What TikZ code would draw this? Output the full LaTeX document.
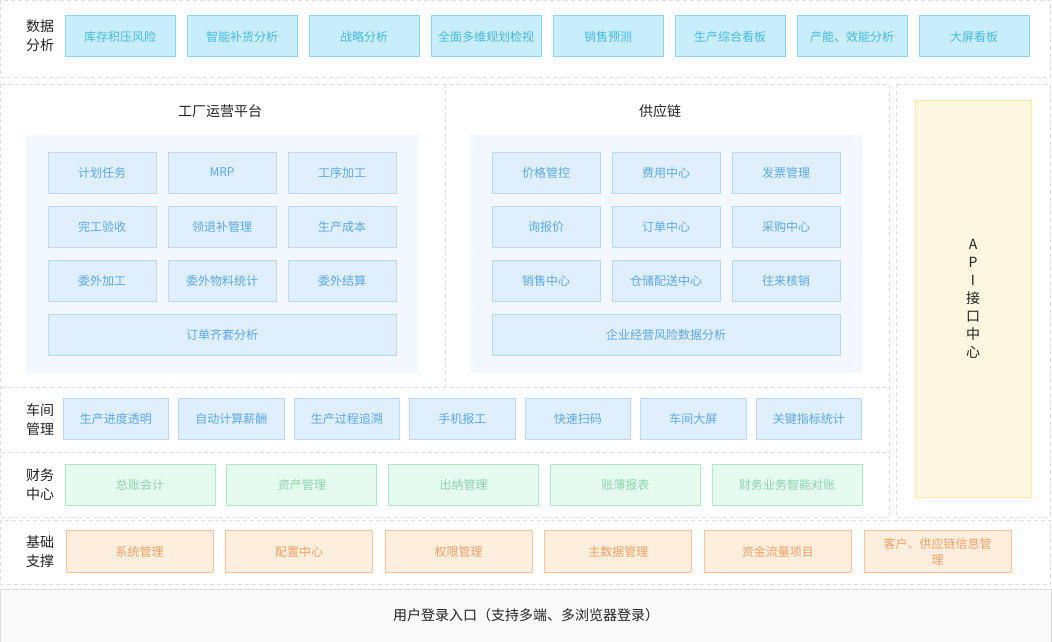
\documentclass[tikz,border=0pt]{standalone}
\usepackage{fontspec}
\setmainfont{Noto Sans CJK SC}
\usetikzlibrary{positioning}
\definecolor{cyanfill}{HTML}{C9EEFB}
\definecolor{cyanline}{HTML}{8ED6F0}
\definecolor{cyantext}{HTML}{45B9E8}
\definecolor{bluefill}{HTML}{DFEFFD}
\definecolor{blueline}{HTML}{BBD9F5}
\definecolor{bluetext}{HTML}{5CA9F0}
\definecolor{panelfill}{HTML}{F2F8FE}
\definecolor{greenfill}{HTML}{E5FBEF}
\definecolor{greenline}{HTML}{B2E6CB}
\definecolor{greentext}{HTML}{8CD6AE}
\definecolor{orangefill}{HTML}{FEEEDD}
\definecolor{orangeline}{HTML}{FAC39B}
\definecolor{orangetext}{HTML}{F5A065}
\definecolor{apifill}{HTML}{FDF6E0}
\definecolor{apiline}{HTML}{FCE89E}
\definecolor{zoneline}{HTML}{DCDCDC}
\definecolor{loginfill}{HTML}{FAFAFA}
\definecolor{loginline}{HTML}{DDDDDD}
\definecolor{labeltext}{HTML}{222222}

\begin{document}
\begin{tikzpicture}[
  x=1pt,y=-1pt,
  node distance=12pt,
  every node/.style={outer sep=0pt,inner sep=2pt},
  zone/.style={draw=zoneline,line width=1pt,dash pattern=on 4pt off 3pt},
  module/.style={draw,line width=1pt,minimum height=41pt,align=center,font=\fontsize{12}{16}\selectfont},
  anabox/.style={module,fill=cyanfill,draw=cyanline,text=cyantext,minimum width=110pt},
  platbox/.style={module,fill=bluefill,draw=blueline,text=bluetext,minimum width=108pt},
  shopbox/.style={module,fill=bluefill,draw=blueline,text=bluetext,minimum width=105.5pt},
  finbox/.style={module,fill=greenfill,draw=greenline,text=greentext,minimum width=150pt},
  basebox/.style={module,fill=orangefill,draw=orangeline,text=orangetext,minimum width=147pt,minimum height=42pt},
  rowlabel/.style={align=center,text=labeltext,font=\fontsize{14}{19}\selectfont},
  paneltitle/.style={text=labeltext,font=\fontsize{14}{17}\selectfont},
  panelbg/.style={fill=panelfill,minimum width=392pt,minimum height=238pt}
]
  \useasboundingbox (0,0) rectangle (1052,642);

  \draw[zone] (0.5,0.5) rectangle (1050,78);
  \draw[zone] (0.5,84) rectangle (889,517);
  \draw[zone] (445,84) -- (445,387);
  \draw[zone] (0.5,387) -- (889,387);
  \draw[zone] (0.5,452) -- (889,452);
  \draw[zone] (896,84) rectangle (1050,517);
  \draw[zone] (0.5,520) rectangle (1050,584);

  \node[rowlabel] (lbdata) at (40,36) {数据\\分析};
  \node[anabox] (kucun) at (120,36.5) {库存积压风险};
  \node[anabox,right=of kucun] (buhuo) {智能补货分析};
  \node[anabox,right=of buhuo] (zhanlue) {战略分析};
  \node[anabox,right=of zhanlue] (guihua) {全面多维规划检视};
  \node[anabox,right=of guihua] (yuce) {销售预测};
  \node[anabox,right=of yuce] (kanban) {生产综合看板};
  \node[anabox,right=of kanban] (channeng) {产能、效能分析};
  \node[anabox,right=of channeng] (daping) {大屏看板};

  \node[paneltitle] (factory) at (220,111) {工厂运营平台};
  \node[panelbg] (factorybg) at (222,254) {};
  \node[platbox] (jihua) at (102,172.5) {计划任务};
  \node[platbox,right=of jihua] (mrp) {MRP};
  \node[platbox,right=of mrp] (gongxu) {工序加工};
  \node[platbox,below=13pt of jihua] (wangong) {完工验收};
  \node[platbox,right=of wangong] (lingtui) {领退补管理};
  \node[platbox,right=of lingtui] (chengben) {生产成本};
  \node[platbox,below=13pt of wangong] (weiwai) {委外加工};
  \node[platbox,right=of weiwai] (wuliao) {委外物料统计};
  \node[platbox,right=of wuliao] (jiesuan) {委外结算};
  \node[platbox,minimum width=348pt] (qitao) at (222,334.5) {订单齐套分析};

  \node[paneltitle] (supply) at (660,111) {供应链};
  \node[panelbg] (supplybg) at (666,254) {};
  \node[platbox] (jiage) at (546,172.5) {价格管控};
  \node[platbox,right=of jiage] (feiyong) {费用中心};
  \node[platbox,right=of feiyong] (fapiao) {发票管理};
  \node[platbox,below=13pt of jiage] (xunbao) {询报价};
  \node[platbox,right=of xunbao] (dingdan) {订单中心};
  \node[platbox,right=of dingdan] (caigou) {采购中心};
  \node[platbox,below=13pt of xunbao] (xiaoshou) {销售中心};
  \node[platbox,right=of xiaoshou] (cangchu) {仓储配送中心};
  \node[platbox,right=of cangchu] (wanglai) {往来核销};
  \node[platbox,minimum width=348pt] (fengxian) at (666,334.5) {企业经营风险数据分析};

  \node[rowlabel] (lbshop) at (40,420) {车间\\管理};
  \node[shopbox] (jindu) at (115.75,419) {生产进度透明};
  \node[shopbox,right=10pt of jindu] (xinchou) {自动计算薪酬};
  \node[shopbox,right=10pt of xinchou] (zhuisu) {生产过程追溯};
  \node[shopbox,right=10pt of zhuisu] (baogong) {手机报工};
  \node[shopbox,right=10pt of baogong] (saoma) {快速扫码};
  \node[shopbox,right=10pt of saoma] (chejian) {车间大屏};
  \node[shopbox,right=10pt of chejian] (zhibiao) {关键指标统计};

  \node[rowlabel] (lbfin) at (40,485) {财务\\中心};
  \node[finbox] (zongzhang) at (140,484.5) {总账会计};
  \node[finbox,right=11.75pt of zongzhang] (zichan) {资产管理};
  \node[finbox,right=11.75pt of zichan] (chuna) {出纳管理};
  \node[finbox,right=11.75pt of chuna] (zhangbu) {账薄报表};
  \node[finbox,right=11.75pt of zhangbu] (duizhang) {财务业务智能对账};

  \node[draw=apiline,fill=apifill,line width=1pt,minimum width=116pt,minimum height=397pt,
        align=center,text=labeltext,font=\fontsize{14}{18}\selectfont] (api) at (973,298.5)
        {A\\P\\I\\接\\口\\中\\心};

  \node[rowlabel] (lbbase) at (40,552) {基础\\支撑};
  \node[basebox] (xitong) at (139.5,551.5) {系统管理};
  \node[basebox,right=12.6pt of xitong] (peizhi) {配置中心};
  \node[basebox,right=12.6pt of peizhi] (quanxian) {权限管理};
  \node[basebox,right=12.6pt of quanxian] (zhushuju) {主数据管理};
  \node[basebox,right=12.6pt of zhushuju] (zijin) {资金流量项目};
  \node[basebox,right=12.6pt of zijin] (kehu) {客户、供应链信息管\\理};

  \node[draw=loginline,fill=loginfill,line width=1pt,minimum width=1051pt,minimum height=53pt,
        text=labeltext,font=\fontsize{14}{17}\selectfont] (login) at (526,615.5)
        {用户登录入口（支持多端、多浏览器登录）};
\end{tikzpicture}
\end{document}
